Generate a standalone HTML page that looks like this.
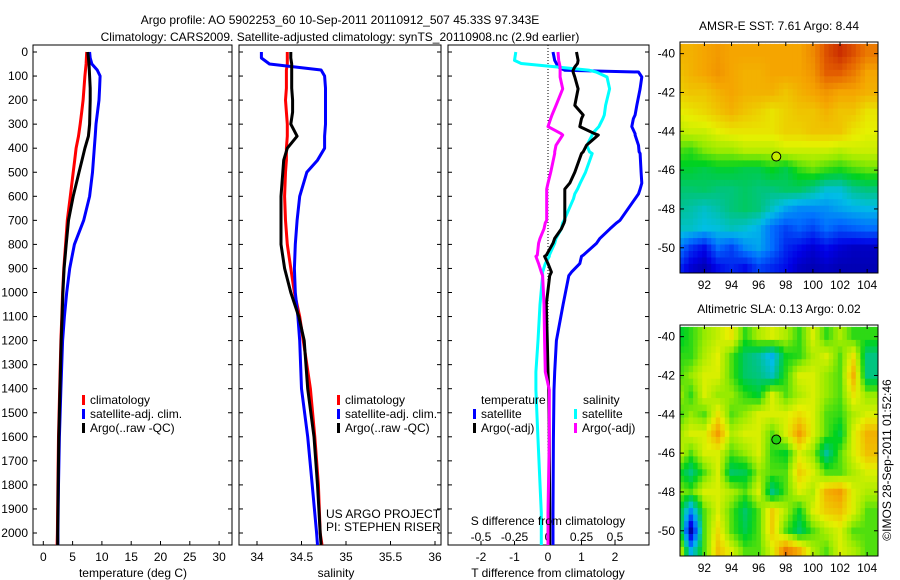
<!DOCTYPE html>
<html><head><meta charset="utf-8"><style>
body{margin:0;background:#fff;width:900px;height:580px;overflow:hidden}
svg{display:block;font-family:"Liberation Sans",sans-serif;font-size:12px}
</style></head><body>
<svg id="c" width="900" height="580" xmlns="http://www.w3.org/2000/svg"></svg>
<script>
// ---- profile data ----
const depths=[0,25,50,75,100,150,200,250,300,350,400,450,500,600,700,800,900,1000,1100,1200,1400,1600,1800,2000,2050];
const tempClim=[7.4,7.35,7.3,7.2,7.1,6.95,6.8,6.55,6.3,6.0,5.6,5.35,5.1,4.6,4.1,3.8,3.5,3.3,3.15,3.0,2.8,2.6,2.5,2.4,2.35];
const tempSat=[7.9,8.0,8.3,9.2,9.7,9.6,9.5,9.25,9.0,8.85,8.7,8.55,8.4,7.9,6.9,5.3,4.5,4.0,3.6,3.3,3.0,2.75,2.6,2.5,2.5];
const tempArgo=[7.6,7.7,7.8,7.85,7.9,8.0,8.0,7.95,7.9,7.7,7.1,6.6,6.1,5.1,4.3,3.9,3.55,3.35,3.2,3.05,2.85,2.65,2.55,2.45,2.45];
const salClim=[34.34,34.34,34.34,34.33,34.33,34.33,34.32,34.33,34.34,34.34,34.33,34.33,34.32,34.31,34.32,34.34,34.38,34.42,34.48,34.52,34.6,34.65,34.69,34.71,34.73];
const salSat=[34.05,34.05,34.14,34.72,34.76,34.77,34.77,34.77,34.77,34.76,34.76,34.68,34.56,34.48,34.45,34.43,34.42,34.43,34.46,34.48,34.5,34.57,34.62,34.67,34.68];
const salArgo=[34.38,34.38,34.39,34.39,34.39,34.39,34.4,34.4,34.38,34.45,34.34,34.3,34.29,34.27,34.27,34.27,34.31,34.38,34.47,34.53,34.57,34.64,34.68,34.71,34.72];
const dDepths=[0,35,48,62,76,83,104,153,222,262,277,310,340,345,388,415,422,500,545,570,590,610,700,710,735,775,795,845,850,880,915,930,1050,1200,1330,1405,1610,1917,2050];
const dTSat=[0.15,0.2,0.25,0.3,0.5,2.7,2.8,2.75,2.65,2.6,2.55,2.5,2.6,2.6,2.7,2.72,2.75,2.78,2.8,2.75,2.7,2.6,2.15,2.05,1.85,1.55,1.45,1.05,1.0,0.95,0.7,0.62,0.45,0.25,0.2,0.18,0.16,0.15,0.15];
const dTArgo=[0.85,0.9,0.88,0.8,0.75,0.75,0.8,0.9,0.8,1.05,1.0,0.95,1.4,1.5,1.15,1.05,1.0,0.8,0.65,0.5,0.5,0.5,0.5,0.48,0.4,0.2,0.15,-0.05,-0.1,0.0,0.1,0.05,-0.05,-0.02,0.0,0.02,0.04,0.05,0.05];
const dSSat=[-0.24,-0.25,-0.2,0.06,0.31,0.36,0.44,0.46,0.43,0.42,0.41,0.38,0.33,0.33,0.29,0.31,0.33,0.28,0.24,0.22,0.2,0.19,0.12,0.11,0.1,0.06,0.05,0.01,0.01,-0.02,-0.04,-0.04,-0.06,-0.075,-0.09,-0.09,-0.075,-0.05,-0.05];
const dSArgo=[0.075,0.08,0.085,0.09,0.09,0.09,0.09,0.11,0.06,0.03,0.02,0.0,0.1,0.11,0.06,0.05,0.05,0.02,0.0,-0.01,-0.01,-0.01,-0.01,-0.02,-0.03,-0.06,-0.07,-0.08,-0.09,-0.07,-0.05,-0.04,-0.03,-0.025,-0.02,0.01,0.01,0.0,0.0];
const depthTicks=[0,100,200,300,400,500,600,700,800,900,1000,1100,1200,1300,1400,1500,1600,1700,1800,1900,2000];
const tempTicks=[0,5,10,15,20,25,30];
const salTicks=[34,34.5,35,35.5,36];
const dTTicks=[-2,-1,0,1,2];
const dSTicks=[-0.5,-0.25,0,0.25,0.5];
// ---- map data (lat rows -40..-51, lon cols 90..104) ----
const mapLats=[-40,-41,-42,-43,-44,-45,-46,-47,-48,-49,-50,-51];
const mapLons=[90,91,92,93,94,95,96,97,98,99,100,101,102,103,104];
const sst=[
[10.8,10.8,11,11.2,11,11,11,11,11,11,11.5,12.5,13,12.5,11.8],
[10.5,10.8,11,11.3,11,10.8,10.8,11,11,11,11.3,12.3,12.3,11.8,11],
[10.3,10.5,10.5,10.8,11,10.8,10.8,10.8,10.5,10.8,11,11.3,11,11,10.8],
[9.8,10,10.2,10.5,10.8,10.5,10.3,10,10.3,10.5,10.5,10.8,10.5,10.5,10],
[9.3,9.5,9.5,9.8,10,10,10,10,10.3,10.3,10.5,10.5,10.5,10,9.8],
[8.5,8.3,8.8,9,9,9.3,9.3,9.3,9.5,9.5,9.5,9.5,9.3,9.5,9.5],
[7.8,7.8,7.6,7.8,7.8,7.6,7.6,8,7.6,8.3,8.6,8.3,8.1,8.4,8.6],
[7.3,7.3,7.4,7.2,7.2,7.4,7.2,7.2,7.4,7.4,7.0,6.4,6.4,7.0,7.2],
[7.0,6.8,6.5,6.8,7.2,7.4,7.2,6.5,5.8,5.4,5.4,5.5,5.8,6.0,6.1],
[6.5,6.5,6.2,6.3,6.6,6.4,6.0,5.0,4.4,4.8,4.4,5.0,4.6,4.8,5.0],
[5.4,4.2,3.6,5.0,4.4,5.4,5.8,5.0,4.0,3.6,3.2,3.6,3.2,3.0,3.0],
[4.2,3.2,2.8,3.6,4.0,3.6,4.4,4.0,3.6,3.0,2.8,3.0,2.8,2.8,2.8]];
const sla=[
[-0.05,0,0.06,0.1,0.15,0,0.08,0.12,0.08,0,0.12,0,0.08,0,0],
[0,0,0.08,0.13,0.02,-0.08,-0.12,-0.2,-0.02,0,0.08,0.12,0.02,0.15,-0.1],
[0,0.06,0.12,0.12,0.02,-0.08,-0.1,-0.15,0,0.12,0.12,0.06,0.02,0.22,-0.1],
[0.08,0,0.12,0.06,0.06,0,-0.04,0.12,0.02,0.08,0.12,0.06,0.02,0.15,0.06],
[0,0.06,0.02,0.15,0.02,0.06,0.12,0.12,0.12,0.16,0.12,0.02,0,0.08,0.12],
[0.06,0.12,0.12,0.25,0.08,0.12,0.12,0.02,0.12,0.25,0.12,0.02,-0.05,0.12,0.22],
[0.12,0.02,0.12,0.12,0.02,0.06,0.12,0.0,-0.03,0.12,0.06,-0.12,0.02,0.12,0.2],
[0,-0.1,0.02,0.12,-0.08,-0.06,0.06,0.02,0.02,0.18,0.12,0.02,0.02,0.08,0.12],
[0.06,0.02,0.12,0.12,0.08,0.02,0.12,-0.1,0.02,0.12,0.08,0.22,0.25,0.12,0.08],
[0.02,-0.25,0.02,0.12,0.02,-0.08,0.02,0.18,0.08,-0.03,0.12,0.18,0.2,0.12,0.02],
[0.12,-0.5,0.02,0.16,0.02,-0.06,0.02,0.18,0.02,-0.08,0.02,0.08,0.12,0.02,0.02],
[0.2,-0.2,0.02,0.2,0.12,0.02,0.02,0.12,0.3,0.22,0.08,0.02,0.12,0.08,0.02]];
const latTicks=[-40,-42,-44,-46,-48,-50];
const lonTicks=[92,94,96,98,100,102,104];
const argoLon=97.3, argoLat=-45.3;

const NS="http://www.w3.org/2000/svg";
const svg=document.getElementById('c');
function el(t,a,p){const e=document.createElementNS(NS,t);for(const k in a)e.setAttribute(k,a[k]);(p||svg).appendChild(e);return e;}
function txt(x,y,s,anchor,p){const e=el('text',{x:x,y:y,'text-anchor':anchor||'middle'},p);e.textContent=s;return e;}
const yD=d=>52+d*0.2405;
const P1={l:33,r:232},P2={l:239,r:441},P3={l:448,r:649},TOP=45,BOT=545;
const xT=t=>43.3+t*5.86, xS=s=>257+(s-34)*89, xdT=v=>548+v*33.5, xdS=v=>548+v*134;

function frame(P,name){
  const r=el('rect',{x:P.l,y:TOP,width:P.r-P.l,height:BOT-TOP,fill:'#fff',stroke:'#000','stroke-width':1});
  
  depthTicks.forEach(d=>{el('line',{x1:P.l,x2:P.l+4,y1:yD(d),y2:yD(d),stroke:'#000'});el('line',{x1:P.r-4,x2:P.r,y1:yD(d),y2:yD(d),stroke:'#000'});});
}
frame(P1,'temperature-panel');frame(P2,'salinity-panel');frame(P3,'difference-panel');
const yl=el('g',{});
depthTicks.forEach(d=>txt(28,yD(d)+4,String(d),'end',yl));
function xticks(P,ticks,fx,y,name){const g=el('g',{});
  ticks.forEach(t=>{el('line',{x1:fx(t),x2:fx(t),y1:BOT,y2:BOT-4,stroke:'#000'},g);txt(fx(t),y,String(t),'middle',g);});}
xticks(P1,tempTicks,xT,561,'temperature-axis');
xticks(P2,salTicks,xS,561,'salinity-axis');
xticks(P3,dTTicks,xdT,561,'t-difference-axis');
const sg=el('g',{});
dSTicks.forEach(t=>txt(xdS(t),541,String(t),'middle',sg));
el('line',{x1:548,x2:548,y1:TOP,y2:BOT,stroke:'#000','stroke-dasharray':'1,2'});

function line(xs,ds,fx,color,name){const pts=xs.map((v,i)=>fx(v).toFixed(1)+','+yD(ds[i]).toFixed(1)).join(' ');
  const e=el('polyline',{points:pts,fill:'none',stroke:color,'stroke-width':3,'stroke-linejoin':'round'});
  }
line(tempClim,depths,xT,'#ff0000','temp-climatology-line');
line(tempSat,depths,xT,'#0000ff','temp-satellite-line');
line(tempArgo,depths,xT,'#000','temp-argo-line');
line(salClim,depths,xS,'#ff0000','sal-climatology-line');
line(salSat,depths,xS,'#0000ff','sal-satellite-line');
line(salArgo,depths,xS,'#000','sal-argo-line');
line(dTSat,dDepths,xdT,'#0000ff','tdiff-satellite-line');
line(dSSat,dDepths,xdS,'#00ffff','sdiff-satellite-line');
line(dTArgo,dDepths,xdT,'#000','tdiff-argo-line');
line(dSArgo,dDepths,xdS,'#ff00ff','sdiff-argo-line');

function legItem(x,y,c,s,name){const g=el('g',{});
  el('rect',{x:x,y:y-9,width:3,height:10,fill:c},g);txt(x+8,y,s,'start',g);}
[82,337].forEach(x=>{
  legItem(x,404,'#ff0000','climatology','legend-climatology');
  legItem(x,418,'#0000ff','satellite-adj. clim.','legend-satellite-adj');
  legItem(x,432,'#000','Argo(..raw -QC)','legend-argo');});
txt(481,404,'temperature','start');txt(583,404,'salinity','start');
legItem(473,418,'#0000ff','satellite','legend-t-satellite');
legItem(473,432,'#000','Argo(-adj)','legend-t-argo');
legItem(574,418,'#00ffff','satellite','legend-s-satellite');
legItem(574,432,'#ff00ff','Argo(-adj)','legend-s-argo');
txt(326,518,'US ARGO PROJECT','start');txt(326,531,'PI: STEPHEN RISER','start');
txt(548,525,'S difference from climatology');
txt(548,577,'T difference from climatology');
txt(133,577,'temperature (deg C)');txt(336,577,'salinity');
txt(340,24,'Argo profile: AO 5902253_60 10-Sep-2011 20110912_507 45.33S 97.343E');
txt(340,41,'Climatology: CARS2009. Satellite-adjusted climatology: synTS_20110908.nc (2.9d earlier)');

// ---- maps ----
const cmapStops=[[0,0,0,120],[0.12,0,0,230],[0.25,0,110,255],[0.35,0,190,230],[0.42,0,195,140],[0.5,0,210,30],[0.58,150,235,0],[0.65,230,240,0],[0.75,245,165,0],[0.85,230,100,0],[0.95,190,20,0],[1,150,0,0]];
function cmap(t){t=Math.max(0,Math.min(1,t));
  for(let k=1;k<cmapStops.length;k++){const a=cmapStops[k-1],b=cmapStops[k];
    if(t<=b[0]){const f=(t-a[0])/(b[0]-a[0]);return 'rgb('+[1,2,3].map(i=>Math.round(a[i]+(b[i]-a[i])*f)).join(',')+')';}}
  return 'rgb(150,0,0)';}
function sample(data,i,j){
  i=Math.max(0,Math.min(data.length-1,i));j=Math.max(0,Math.min(data[0].length-1,j));
  const i0=Math.floor(i),j0=Math.floor(j),i1=Math.min(i0+1,data.length-1),j1=Math.min(j0+1,data[0].length-1),fi=i-i0,fj=j-j0;
  return (data[i0][j0]*(1-fj)+data[i0][j1]*fj)*(1-fi)+(data[i1][j0]*(1-fj)+data[i1][j1]*fj)*fi;}
function map(top,data,vmin,vmax,title,name,dotFill){
  const L=680,R=878,B=top+231;
  const lon0=90.2,lon1=104.8,lat0=-39.4,lat1=-51.3;
  const mx=v=>L+(v-lon0)/(lon1-lon0)*(R-L), my=v=>top+(v-lat0)/(lat1-lat0)*(B-top);
  const g=el('g',{});
  const cp=el('clipPath',{id:'cp'+name},g);
  el('rect',{x:L,y:top,width:R-L,height:B-top},cp);
  const cg=el('g',{'clip-path':'url(#cp'+name+')'},g);
  const sub=3,step=1/sub;
  for(let la=mapLats[0]+0.5;la>mapLats[mapLats.length-1]-0.5;la-=step){
    for(let lo=mapLons[0]-0.5;lo<mapLons[mapLons.length-1]+0.5;lo+=step){
      const ci=(mapLats[0]-(la-step/2)), cj=(lo+step/2)-mapLons[0];
      const v=sample(data,ci,cj);
      const c=el('rect',{x:mx(lo).toFixed(1),y:my(la).toFixed(1),width:(mx(lo+step)-mx(lo)+0.6).toFixed(1),height:(my(la-step)-my(la)+0.6).toFixed(1),fill:cmap((v-vmin)/(vmax-vmin))},cg);
      
      
    }}
  el('rect',{x:L,y:top,width:R-L,height:B-top,fill:'none',stroke:'#000'},g);
  latTicks.forEach(t=>{el('line',{x1:L,x2:L+4,y1:my(t),y2:my(t),stroke:'#000'},g);el('line',{x1:R-4,x2:R,y1:my(t),y2:my(t),stroke:'#000'},g);txt(675,my(t)+4,String(t),'end',g);});
  lonTicks.forEach(t=>{el('line',{x1:mx(t),x2:mx(t),y1:B,y2:B-4,stroke:'#000'},g);el('line',{x1:mx(t),x2:mx(t),y1:top,y2:top+4,stroke:'#000'},g);txt(mx(t),B+16,String(t),'middle',g);});
  const d=el('circle',{cx:mx(argoLon),cy:my(argoLat),r:4.5,fill:dotFill,stroke:'#000','stroke-width':1},g);
  
  
  txt(779,top-12,title,'middle',g);
}
map(42,sst,2,14,'AMSR-E SST: 7.61 Argo: 8.44','sst-map','#c8ec00');
map(325,sla,-0.55,0.5,'Altimetric SLA: 0.13 Argo: 0.02','sla-map','#20d010');
const cr=el('text',{x:0,y:0,transform:'translate(891,460) rotate(-90)','text-anchor':'middle'});
cr.textContent='©IMOS 28-Sep-2011 01:52:46';


</script>
</body></html>
